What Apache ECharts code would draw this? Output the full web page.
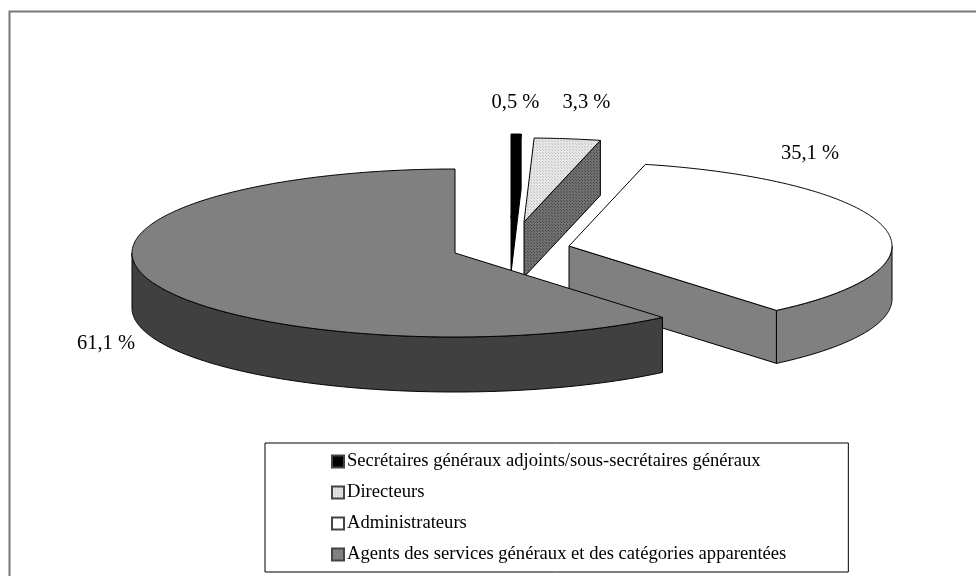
<!DOCTYPE html>
<html>
<head>
<meta charset="utf-8">
<title>Répartition du personnel</title>
<script src="https://cdn.jsdelivr.net/npm/echarts@6/dist/echarts.min.js"></script>
<style>
  html, body { margin: 0; padding: 0; background: #fff; }
  #chart-box { width: 976px; height: 576px; }
</style>
</head>
<body>
<div id="chart-box"></div>
<script>
// values, in % (clockwise from 12 o'clock)
const categories = [
  'Secrétaires généraux adjoints/sous-secrétaires généraux',
  'Directeurs',
  'Administrateurs',
  'Agents des services généraux et des catégories apparentées',
];
const shares = [0.5, 3.3, 35.1, 61.1];
const shareLabels = ['0,5 %', '3,3 %', '35,1 %', '61,1 %'];

// pseudo 3D layout
const RX = 323;
const RY = 84;
const depths = [55, 55, 53, 55];
const centers = [[511, 218], [524, 222], [569, 246], [455, 253]];
const labelPos = [[515.5, 103], [586.5, 103], [810, 154], [106, 344]];
// draw order: exploded slices first, the big one goes on top
const zOrder = [3, 2, 1, 4];

const dots = (bg, fg) => {
  const c = document.createElement('canvas');
  c.width = c.height = 3;
  const ctx = c.getContext('2d');
  ctx.fillStyle = bg;
  ctx.fillRect(0, 0, 3, 3);
  ctx.fillStyle = fg;
  ctx.fillRect(0, 0, 1, 1);
  ctx.fillRect(2, 2, 1, 1);
  return { image: c, repeat: 'repeat' };
};

const topFill = ['#000000', dots('#e6e6e6', '#c4c4c4'), '#ffffff', '#808080'];
const sideFill = ['#000000', dots('#707070', '#4c4c4c'), '#808080', '#404040'];

const total = shares.reduce((a, b) => a + b, 0);
const toAngle = v => echarts.number.linearMap(v, [0, total], [0, Math.PI * 2]);

// angle is measured clockwise from 12 o'clock
const onRim = (c, a, dy) => [c[0] + RX * Math.sin(a), c[1] - RY * Math.cos(a) + (dy || 0)];

const arc = (c, a0, a1, dy) => {
  const pts = [];
  const n = Math.max(2, Math.ceil((a1 - a0) / 0.01));
  for (let i = 0; i <= n; i++) pts.push(onRim(c, a0 + (a1 - a0) * i / n, dy));
  return pts;
};

const poly = (points, fill, stroke) => ({
  type: 'polygon',
  shape: { points },
  style: { fill, stroke, lineWidth: 1, lineJoin: 'round' },
  silent: true,
});

const makeRender = idx => (params, api) => {
  const before = shares.slice(0, idx).reduce((a, b) => a + b, 0);
  const a0 = toAngle(before);
  const a1 = toAngle(before + api.value(0));
  const c = centers[idx];
  const side = sideFill[idx];
  const depth = depths[idx];
  const children = [];

  // cut face seen from the front: the one on the end edge when it points down-left
  if (a1 < Math.PI) {
    const p = onRim(c, a1);
    children.push(poly([c, p, [p[0], p[1] + depth], [c[0], c[1] + depth]], side, '#000'));
  }
  // rim, only the front half of the ellipse shows
  const r0 = Math.max(a0, Math.PI / 2);
  const r1 = Math.min(a1, Math.PI * 1.5);
  if (r1 > r0) {
    children.push(poly(arc(c, r0, r1).concat(arc(c, r0, r1, depth).reverse()), side, '#000'));
  }
  // top face
  children.push(poly([c].concat(arc(c, a0, a1)), topFill[idx], '#000'));
  // value label
  children.push({
    type: 'text',
    silent: true,
    style: {
      x: labelPos[idx][0],
      y: labelPos[idx][1],
      text: shareLabels[idx],
      fill: '#000',
      font: '20.5px "Liberation Serif"',
      align: 'center',
      verticalAlign: 'middle',
    },
  });
  return { type: 'group', children };
};

const option = {
  animation: false,
  backgroundColor: '#fff',
  textStyle: { fontFamily: 'Liberation Serif' },
  graphic: [
    {
      type: 'rect',
      silent: true,
      shape: { x: 9.5, y: 11.5, width: 1000, height: 600 },
      style: { fill: 'none', stroke: '#777', lineWidth: 2 },
    },
  ],
  legend: {
    orient: 'vertical',
    left: 265,
    top: 443,
    data: categories,
    selectedMode: false,
    icon: 'rect',
    itemWidth: 12,
    itemHeight: 12,
    itemGap: 12,
    padding: [9, 62, 8, 66],
    borderColor: '#000',
    borderWidth: 1,
    textStyle: { color: '#000', fontSize: 18.6, fontFamily: 'Liberation Serif', padding: [0, 0, 0, -2] },
  },
  series: categories.map((name, i) => ({
    type: 'custom',
    name,
    coordinateSystem: 'none',
    z: zOrder[i],
    itemStyle: { color: topFill[i], borderColor: '#444', borderWidth: 1 },
    data: [[shares[i]]],
    renderItem: makeRender(i),
  })),
};

const mycharts = echarts.init(document.getElementById('chart-box'));
mycharts.setOption(option);
</script>
</body>
</html>
